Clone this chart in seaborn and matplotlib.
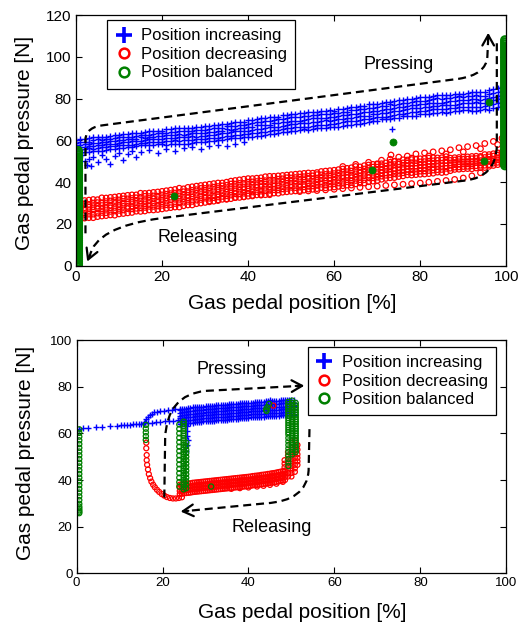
import matplotlib
matplotlib.use("Agg")
import matplotlib.pyplot as plt
import seaborn as sns
from matplotlib.path import Path
from matplotlib.patches import PathPatch
from matplotlib.lines import Line2D

# ================= data: top panel =================
XE = [0,2,4,6,8,10,12,14,16,18,20,22,24,26,28,30,32,34,36,38,40,42,44,46,48,50,
      52,54,56,58,60,62,64,66,68,70,72,74,76,78,80,82,84,86,88,90,92,94,96,98,100]
XO = [1,3,5,7,9,11,13,15,17,19,21,23,25,27,29,31,33,35,37,39,41,43,45,47,49,
      51,53,55,57,59,61,63,65,67,69,71,73,75,77,79,81,83,85,87,89,91,93,95,97,99]

# position increasing (blue), traces on the even grid
TOP_INC_E1 = [60.2,60.7,61.5,61.7,62.2,62.4,63.1,63.5,64.2,64.3,64.7,65.5,65.8,65.8,66.4,66.7,67.2,68.0,68.2,68.7,69.6,
              70.2,70.5,71.4,72.0,72.6,73.3,73.4,73.8,74.2,74.3,75.2,75.8,76.4,77.3,77.6,78.2,78.8,79.1,80.0,80.6,
              81.0,81.7,81.8,82.2,82.3,83.2,83.0,84.0,85.0,86.0]
TOP_INC_E2 = [58.9,59.4,60.2,60.4,60.9,61.4,61.8,61.9,62.6,63.0,63.4,64.0,64.6,64.6,64.9,65.2,65.7,65.9,66.7,67.2,68.0,
              68.6,69.5,69.8,70.4,71.0,71.4,71.5,72.2,72.6,73.0,73.6,74.5,74.8,75.4,76.0,76.6,76.9,77.8,78.4,79.0,
              79.4,80.1,80.2,80.6,81.0,81.4,81.3,82.2,83.2,84.2]
TOP_INC_E3 = [57.6,58.1,58.6,59.4,59.6,60.1,60.5,60.6,61.3,61.7,62.1,62.5,63.1,63.1,63.4,63.7,63.9,64.7,65.2,65.7,66.3,
              67.2,67.5,68.1,68.7,69.3,69.4,70.1,70.5,70.9,71.3,72.2,72.5,73.1,73.7,74.0,74.9,75.5,76.1,77.0,77.3,
              77.7,78.1,78.2,78.9,79.3,79.6,79.5,80.4,81.4,82.4]
TOP_INC_E4 = [56.4,56.9,57.4,57.9,58.1,58.9,59.3,59.7,60.1,60.8,60.9,61.1,61.4,61.7,61.7,62.3,62.8,63.3,63.8,64.6,64.7,
              65.3,65.9,66.5,66.8,67.7,68.1,68.5,68.9,69.6,69.7,70.3,70.9,71.5,71.8,72.7,73.3,73.9,74.5,75.4,75.7,
              76.1,76.5,76.9,77.0,77.7,77.8,78.0,78.3,79.6,80.6]
TOP_INC_E5 = [55.1,55.9,56.1,56.6,57.1,57.6,57.7,58.4,58.8,59.2,59.3,59.6,59.9,60.2,60.8,60.8,61.3,61.8,62.0,62.8,63.0,
              63.6,64.2,65.1,65.4,66.0,66.4,66.5,67.2,67.6,68.0,68.6,69.5,69.8,70.4,71.0,71.3,72.2,72.8,73.4,74.3,
              74.4,74.8,75.2,75.3,76.0,76.0,76.2,77.1,77.8,78.8]
TOP_INC_E6 = [53.8,54.3,54.8,55.0,55.8,56.3,56.7,57.1,57.8,57.9,58.3,58.1,58.4,58.4,59.0,59.3,59.8,60.3,61.1,61.3,61.4,
              62.0,62.6,62.9,63.8,64.4,64.8,65.2,65.9,66.0,66.4,67.0,67.6,67.9,68.8,69.4,70.0,70.6,71.5,71.8,72.4,
              72.8,73.2,73.3,74.0,74.4,74.2,74.4,74.7,76.0,77.0]
# position increasing (blue), traces on the odd grid
TOP_INC_O1 = [60.5,61.0,61.5,61.8,62.5,62.9,63.3,63.7,64.4,64.5,65.4,65.7,66.0,66.0,66.6,67.0,67.5,68.0,68.8,69.0,
              69.9,70.5,71.1,71.4,72.3,72.8,73.2,73.6,74.3,74.4,74.9,75.5,76.1,76.4,77.3,77.9,78.5,79.1,80.0,80.3,
              80.8,81.2,81.6,81.7,82.4,82.8,83.3,83.2,84.5,85.5]
TOP_INC_O2 = [59.2,59.4,60.5,60.7,61.2,61.6,61.7,62.4,62.8,63.5,63.7,64.2,64.5,64.5,65.1,65.5,66.0,66.8,67.0,67.5,
              68.3,68.9,69.2,70.1,70.7,71.2,71.6,72.3,72.4,72.8,73.3,73.6,74.5,75.1,75.7,76.3,77.2,77.5,78.1,78.7,
              78.9,79.6,80.0,80.4,81.1,81.1,81.5,81.4,82.7,83.7]
TOP_INC_O3 = [57.9,58.4,58.6,59.4,59.9,60.3,60.7,61.4,61.5,61.9,62.4,62.7,62.7,63.3,63.6,64.0,64.5,65.3,65.5,66.0,
              66.6,67.2,67.5,68.4,69.0,69.5,69.9,70.6,70.7,71.1,71.6,72.2,72.5,73.4,74.0,74.6,75.2,76.1,76.4,77.0,
              77.5,77.9,78.0,78.7,79.1,79.5,80.0,79.9,80.9,81.9]
TOP_INC_O4 = [56.7,57.2,57.7,58.2,58.4,59.1,59.5,59.9,60.6,60.7,61.0,61.3,61.6,61.9,61.9,62.6,63.1,63.6,64.4,64.6,
              65.0,65.6,66.2,66.5,67.4,67.9,68.3,68.7,69.4,69.5,70.0,70.6,71.2,71.5,72.4,73.0,73.6,74.2,75.1,75.4,
              75.9,76.3,76.7,76.8,77.5,77.8,78.2,78.1,79.1,80.1]
TOP_INC_O5 = [55.4,56.2,56.4,56.9,57.4,57.8,57.9,58.6,59.0,59.4,59.5,60.1,60.1,60.4,60.7,61.1,61.3,62.1,62.6,63.1,
              63.3,64.2,64.5,65.1,65.7,66.2,66.3,67.0,67.4,67.8,68.3,69.2,69.5,70.1,70.7,71.3,71.6,72.5,73.1,73.7,
              74.2,74.9,75.0,75.4,75.8,75.9,75.8,76.3,77.3,78.3]
TOP_INC_O6 = [54.1,54.6,55.1,55.3,56.1,56.5,56.9,57.6,57.7,58.1,58.0,58.3,58.3,58.9,59.2,59.6,60.4,60.6,61.1,61.6,
              61.7,62.0,62.9,63.5,64.1,64.6,65.3,65.4,65.8,66.2,66.4,67.3,67.9,68.5,69.1,70.0,70.3,70.9,71.5,71.8,
              72.6,73.0,73.7,73.8,74.2,74.5,74.3,74.9,75.5,76.5]
TOP_INC_STRAY_X = [1.5,2,2.5,3,3.5,4,5,6,7,8,9,10,11,12,13,14,15,17,19,21,23,25,27,29,31,33,35,37,39,73.5]
TOP_INC_STRAY_Y = [53,50,48,51,47.5,52,49.5,53,51,48.5,52.5,54,50.5,53.5,55,52,54.5,55.5,54,56,55,56.5,57,56,57.5,58,57.5,58.5,59,65.3]

# position decreasing (red), even grid
TOP_DEC_E1 = [30.7,31.2,31.7,32.5,32.7,33.2,33.7,33.9,34.6,35.1,35.6,36.2,37.1,37.5,38.1,38.7,39.3,39.6,40.5,41.1,41.7,
              41.9,42.6,42.8,43.2,43.6,44.0,44.4,44.6,45.3,45.7,46.3,46.9,47.3,48.2,48.8,49.2,49.9,50.7,50.8,51.2,
              51.5,51.6,52.2,51.7,52.0,52.3,52.3,53.2,54.0,54.8]
TOP_DEC_E2 = [29.0,29.5,30.0,30.2,31.0,31.5,32.0,32.5,33.2,33.4,33.9,34.5,35.1,35.5,36.4,37.0,37.6,38.2,39.1,39.4,40.0,
              40.3,40.7,40.9,41.6,42.0,42.4,42.8,43.6,43.7,44.1,44.7,45.3,45.7,46.6,47.2,47.7,48.4,49.2,49.3,49.7,
              50.0,50.4,50.4,50.6,50.9,51.2,51.8,52.1,52.9,53.7]
TOP_DEC_E3 = [27.3,27.8,28.3,28.8,29.0,29.8,30.3,30.8,31.2,32.0,32.2,32.8,33.4,33.8,34.7,35.3,35.9,36.5,37.4,37.7,38.3,
              38.7,39.1,39.3,40.0,40.4,40.8,41.5,41.7,42.1,42.5,43.1,43.4,44.4,45.0,45.6,46.2,46.6,47.4,47.8,48.2,
              48.8,48.9,49.2,49.4,49.7,49.8,50.3,50.9,51.7,52.5]
TOP_DEC_E4 = [25.7,26.5,26.7,27.2,27.7,28.2,28.4,29.2,29.6,30.1,30.6,31.5,31.8,32.5,33.1,33.7,34.0,34.9,35.5,36.1,36.7,
              37.4,37.5,38.0,38.4,38.8,38.9,39.6,40.1,40.5,40.9,41.8,42.1,42.8,43.4,44.0,44.5,45.5,46.0,46.4,46.8,
              47.4,47.5,47.8,48.4,48.7,48.7,49.3,49.9,50.7,51.5]
TOP_DEC_E5 = [24.0,24.5,24.7,25.5,26.0,26.5,27.3,27.5,27.9,28.4,28.9,29.2,30.1,30.8,31.4,32.3,32.6,33.2,33.8,34.4,34.7,
              35.5,35.9,36.4,36.8,37.5,37.6,38.0,38.5,38.6,39.3,39.9,40.5,41.2,42.1,42.4,43.3,44.0,44.5,44.6,45.3,
              45.6,46.0,46.6,47.2,47.5,47.8,48.1,48.4,49.5,50.3]
TOP_DEC_E6 = [22.3,22.8,23.0,23.8,24.3,24.8,25.3,26.1,26.2,26.7,27.2,27.8,28.1,29.1,29.7,30.3,30.9,31.8,32.1,32.7,33.3,
              33.9,34.0,34.8,35.2,35.6,36.0,36.7,36.9,37.3,37.7,38.3,38.6,39.6,40.2,40.8,41.8,42.2,43.0,43.4,43.8,
              44.1,44.8,44.8,46.1,46.4,46.4,47.0,47.6,48.4,49.2]
# position decreasing (red), odd grid
TOP_DEC_O1 = [30.9,31.4,31.6,32.4,32.9,33.4,33.9,34.7,34.8,35.3,35.9,36.5,36.8,37.8,38.4,39.0,39.6,40.0,40.8,41.4,
              41.7,42.1,42.8,43.0,43.4,43.8,44.2,44.3,45.1,45.5,46.0,46.6,47.5,47.9,48.5,48.8,49.5,49.8,50.6,51.0,
              51.3,51.7,51.7,51.5,51.8,52.1,52.4,53.2,53.6,54.4]
TOP_DEC_O2 = [29.2,29.4,30.2,30.7,31.2,32.0,32.2,32.7,33.1,33.3,34.2,34.8,35.4,36.1,37.0,37.3,37.9,38.5,39.1,39.4,
              40.1,40.5,40.9,41.4,42.1,42.2,42.6,43.0,43.5,43.6,44.4,45.0,45.6,46.3,47.2,47.3,48.0,48.6,49.1,49.2,
              49.8,50.2,50.5,50.4,50.9,51.0,51.3,51.8,52.5,53.3]
TOP_DEC_O3 = [27.5,28.0,28.5,29.0,29.8,30.0,30.5,31.0,31.4,31.6,32.5,33.1,33.7,34.4,35.3,35.6,36.2,36.8,37.4,37.7,
              38.5,38.9,39.3,39.8,40.5,40.6,41.0,41.4,41.9,42.0,42.8,43.4,44.0,44.7,45.6,45.8,46.5,47.1,47.6,47.7,
              48.3,48.7,49.0,49.2,49.8,49.8,50.1,50.6,51.0,52.1]
TOP_DEC_O4 = [25.9,26.4,27.2,27.4,27.9,28.4,28.6,29.4,29.8,30.3,30.9,31.8,32.1,32.8,33.4,34.0,34.3,35.2,35.8,36.4,
              36.9,37.6,37.7,38.2,38.6,39.0,39.1,39.8,40.3,40.7,41.2,42.1,42.4,43.1,43.7,44.4,44.8,45.7,46.2,46.6,
              46.9,47.0,47.6,48.2,48.5,48.8,49.4,49.6,50.3,51.1]
TOP_DEC_O5 = [24.2,24.7,25.2,25.4,26.2,26.7,27.2,27.7,28.4,28.6,29.2,29.8,30.4,30.8,31.7,32.3,32.9,33.5,34.4,34.7,
              35.3,35.7,36.1,36.3,37.0,37.4,37.8,38.2,39.0,39.1,39.6,40.2,40.8,41.2,42.1,42.9,43.6,44.2,45.0,45.1,
              45.4,45.8,46.1,46.7,47.3,47.6,47.9,48.1,49.1,49.9]
TOP_DEC_O6 = [22.5,23.0,23.5,24.0,24.2,25.0,25.5,26.0,26.7,26.9,27.5,28.1,28.7,29.1,30.0,30.6,31.2,31.8,32.7,33.0,
              33.7,34.1,34.5,34.7,35.4,35.8,36.2,36.6,37.4,37.5,38.0,38.6,39.2,39.6,40.5,41.4,42.1,42.7,43.5,43.6,
              43.9,44.3,44.6,45.5,46.2,46.5,46.8,47.0,48.0,48.8]
TOP_DEC_LOW_X = [31,33,35,37,39,41,43,45,52,54,56,58,60,62,64,66,68,70,72,74,76,78,80,82,84,86,88,90,92,94]
TOP_DEC_LOW_Y = [31.0,31.5,32.0,32.6,33.0,33.4,33.8,34.0,35.5,35.8,36.0,36.3,36.6,36.9,37.2,37.5,37.8,38.1,38.4,38.7,
                 39.0,39.3,39.6,40.0,40.4,40.8,41.3,42.0,43.0,44.5]
TOP_DEC_HIGH_X = [62,65,68,71,73,75,77,79,81,83,85,87,89,91,93,95,97,99,70,74,78,82,86,90,94,98,73.2]
TOP_DEC_HIGH_Y = [47.5,48.5,49.5,50.5,51.0,52.0,52.5,53.5,54.0,54.5,55.0,55.5,56.5,57.0,57.5,58.5,59.5,61.0,
                  48.5,50.0,51.5,52.5,53.5,54.5,56.0,58.0,53.0]

# position balanced (green)
TOP_BAL_LEFT_X = 0.5
TOP_BAL_LEFT_Y = [0,1,2,3,4,5,6,7,8,9,10,11,12,13,14,15,16,17,18,19,20,21,22,23,24,25,26,27,
                  28,29,30,31,32,33,34,35,36,37,38,39,40,41,42,43,44,45,46,47,48,49,50,51,52,53,54,55]
TOP_BAL_RIGHT_X = 99.7
TOP_BAL_RIGHT_Y = [48,49,50,51,52,53,54,55,56,57,58,59,60,61,62,63,64,65,66,67,68,69,70,71,72,73,74,75,76,77,
                   78,79,80,81,82,83,84,85,86,87,88,89,90,91,92,93,94,95,96,97,98,99,100,101,102,103,104,105,106,107,108]
TOP_BAL_DOT_X = [22.8, 68.7, 73.6, 94.8, 96.0]
TOP_BAL_DOT_Y = [33.3, 45.8, 59.0, 50.2, 78.3]

# ================= data: bottom panel =================
XBI = [24,25,26,27,28,29,30,31,32,33,34,35,36,37,38,39,40,41,42,43,44,45,46,47,48,49,50]
XBH = [24.5,25.5,26.5,27.5,28.5,29.5,30.5,31.5,32.5,33.5,34.5,35.5,36.5,37.5,38.5,39.5,40.5,41.5,42.5,43.5,
       44.5,45.5,46.5,47.5,48.5,49.5,50.5]

BOT_INC_LINE_X = [0.6,1.4,2.7,4.4,6.0,7.8,9.5,10.3,11.0,11.8,12.4,13.1,13.9,14.4,14.9,15.7,16.5,17.5,18.5,19.5,20.5,21.5,22.5,23.5,24.5]
BOT_INC_LINE_Y = [62.0,62.4,62.5,62.7,62.9,63.1,63.3,63.4,63.5,63.6,63.7,63.8,63.9,64.0,64.1,64.3,64.5,64.6,64.8,65.0,65.1,65.3,65.5,65.6,65.8]
BOT_INC_ARC_X = [15.8,16.2,16.6,17.0,17.5,18.0,18.7,19.5,20.3,21.2,22.1,23.0,24.0,25.6,25.8,25.6,25.9,25.7,25.5]
BOT_INC_ARC_Y = [65.0,66.0,67.0,67.8,68.5,69.0,69.3,69.5,69.7,69.9,70.1,70.3,70.5,63.0,61.0,59.0,57.0,55.0,52.5]
BOT_INC_I1 = [70.2,70.5,70.8,71.3,71.2,71.4,71.6,71.8,71.9,72.3,72.2,72.3,72.5,72.6,72.8,73.2,73.1,73.2,73.4,73.5,73.7,74.1,73.9,74.0,74.1,74.2,74.2]
BOT_INC_I2 = [68.9,69.2,69.5,69.7,69.9,70.1,70.3,70.4,70.6,70.7,70.9,71.0,71.2,71.3,71.5,71.6,71.8,71.9,72.1,72.2,72.4,72.5,72.6,72.7,72.8,72.8,72.9]
BOT_INC_I3 = [67.6,67.9,68.2,68.4,68.6,68.8,69.0,69.2,69.3,69.5,69.6,69.8,69.9,70.1,70.2,70.4,70.5,70.7,70.8,71.0,71.1,71.2,71.3,71.4,71.5,71.6,71.6]
BOT_INC_I4 = [66.4,66.7,67.0,67.2,67.4,67.6,67.8,67.9,68.1,68.2,68.4,68.5,68.7,68.8,69.0,69.1,69.3,69.4,69.6,69.7,69.9,70.0,70.1,70.2,70.3,70.3,70.4]
BOT_INC_I5 = [65.1,65.4,65.7,65.9,66.1,66.3,66.5,66.6,66.8,66.9,67.1,67.2,67.4,67.5,67.7,67.8,68.0,68.1,68.3,68.4,68.6,68.7,68.8,68.9,69.0,69.0,69.1]
BOT_INC_I6 = [63.8,64.1,64.4,64.6,64.8,65.0,65.2,65.3,65.5,65.6,65.8,65.9,66.1,66.2,66.4,66.5,66.7,66.8,67.0,67.1,67.3,67.4,67.5,67.6,67.7,67.7,67.8]
BOT_INC_H1 = [70.4,70.6,70.9,71.1,71.3,71.5,71.7,71.8,72.0,72.1,72.3,72.4,72.6,72.7,72.9,73.0,73.2,73.3,73.5,73.6,73.8,73.9,74.0,74.1,74.1,74.2,74.2]
BOT_INC_H2 = [69.0,69.3,69.6,69.8,70.0,70.2,70.4,70.5,70.7,70.8,71.0,71.1,71.3,71.4,71.6,71.7,71.9,72.0,72.2,72.3,72.5,72.6,72.7,72.8,72.9,72.9,72.9]
BOT_INC_H3 = [67.8,68.0,68.3,68.5,68.7,68.9,69.1,69.2,69.4,69.5,69.7,69.8,70.0,70.1,70.3,70.4,70.6,70.7,70.9,71.0,71.1,71.2,71.3,71.4,71.5,71.6,71.6]
BOT_INC_H4 = [66.6,66.9,67.1,67.3,67.5,67.7,67.9,68.0,68.2,68.3,68.5,68.6,68.8,68.9,69.1,69.2,69.4,69.5,69.7,69.8,70.0,70.1,70.2,70.3,70.3,70.4,70.4]
BOT_INC_H5 = [65.2,65.5,65.8,66.0,66.2,66.4,66.6,66.7,66.9,67.0,67.2,67.3,67.5,67.6,67.8,67.9,68.1,68.2,68.4,68.5,68.6,68.7,68.8,68.9,69.0,69.1,69.1]
BOT_INC_H6 = [64.0,64.3,64.5,64.7,64.9,65.1,65.3,65.4,65.6,65.7,65.9,66.0,66.2,66.3,66.5,66.6,66.8,66.9,67.1,67.2,67.4,67.5,67.6,67.7,67.7,67.8,67.8]

BOT_DEC_I1 = [38.0,38.3,38.5,38.8,39.0,39.2,39.4,39.6,39.8,40.0,40.2,40.4,40.6,40.8,41.0,41.2,41.4,41.7,41.9,42.2,42.4,42.7,43.0,43.4,43.8]
BOT_DEC_I2 = [36.7,37.0,37.2,37.5,37.7,37.9,38.1,38.3,38.5,38.7,38.9,39.1,39.3,39.5,39.7,39.9,40.1,40.4,40.6,40.9,41.1,41.4,41.7,42.1,42.5]
BOT_DEC_I3 = [35.3,35.6,35.8,36.1,36.3,36.5,36.7,36.9,37.1,37.3,37.5,37.7,37.9,38.1,38.3,38.5,38.7,39.0,39.2,39.5,39.7,40.0,40.3,40.7,41.1]
BOT_DEC_I4 = [34.0,34.3,34.5,34.8,35.0,35.2,35.4,35.6,35.8,36.0,36.2,36.4,36.6,36.8,37.0,37.2,37.4,37.7,37.9,38.2,38.4,38.7,39.0,39.4,39.8]
BOT_DEC_H1 = [38.1,38.4,38.6,38.9,39.1,39.3,39.5,39.7,39.9,40.1,40.3,40.5,40.7,40.9,41.1,41.3,41.5,41.8,42.0,42.3,42.6,42.9,43.2,43.6,44.0]
BOT_DEC_H2 = [36.8,37.1,37.3,37.6,37.8,38.0,38.2,38.4,38.6,38.8,39.0,39.2,39.4,39.6,39.8,40.0,40.2,40.5,40.7,41.0,41.3,41.6,41.9,42.3,42.7]
BOT_DEC_H3 = [35.4,35.7,35.9,36.2,36.4,36.6,36.8,37.0,37.2,37.4,37.6,37.8,38.0,38.2,38.4,38.6,38.8,39.1,39.3,39.6,39.9,40.2,40.5,40.9,41.3]
BOT_DEC_H4 = [34.1,34.4,34.6,34.9,35.1,35.3,35.5,35.7,35.9,36.1,36.3,36.5,36.7,36.9,37.1,37.3,37.5,37.8,38.0,38.3,38.6,38.9,39.2,39.6,40.0]
BOT_DEC_LOOP_X = [16.2,16.2,16.3,16.3,16.4,16.6,16.8,17.1,17.4,17.8,18.2,18.7,19.2,19.8,20.4,21.0,21.7,22.4,23.1,23.8,24.5,
                  36,38,40,42,43.5,45,46.5,48,45.8]
BOT_DEC_LOOP_Y = [56.0,53.6,50.7,48.5,46.5,44.5,42.5,40.8,39.3,38.0,36.9,35.8,34.9,34.0,33.3,32.7,32.3,32.1,32.1,32.3,32.6,
                  36.2,36.5,36.8,37.2,37.5,37.9,38.4,39.2,71.9]
BOT_DEC_COL_X = [48.4,48.4,48.4,48.4,48.4, 49.2,49.2,49.2,49.2,49.2,49.2,49.2,49.2,
                 50.0,50.0,50.0,50.0,50.0,50.0,50.0,50.0,50.0,50.0,
                 50.8,50.8,50.8,50.8,50.8,50.8,50.8,50.8,50.8, 51.4,51.4,51.4,51.4,51.4,51.4]
BOT_DEC_COL_Y = [42.5,44.0,45.5,47.0,48.5, 41.5,43.0,44.5,46.0,47.5,49.0,50.5,52.0,
                 41.5,43.0,44.5,46.0,47.5,49.0,50.5,52.0,54.0,56.0,
                 43.5,45.0,46.5,48.0,49.5,51.0,52.5,54.5,57.0, 46.5,48.0,49.5,51.0,53.0,55.0]

BOT_BAL_COLUMNS = {
    0.6: [61.7,60.2,58.6,57.0,55.4,53.8,52.2,50.6,49.0,47.4,45.8,44.2,42.6,41.0,39.4,37.8,36.2,34.6,33.0,31.4,
          29.8,28.6,27.8,27.0,26.4,25.8],
    16.1: [63.6,62.0,60.4,58.8,57.2],
    23.9: [63.8,61.9,60.0,58.1,56.2,54.3,52.4,50.5,48.6,46.7,44.8,42.9,41.0,39.1,37.2],
    24.9: [65.0,64.0,63.0,62.0,61.0,60.0,59.0,58.0,57.0,56.0,55.0,54.0,53.0,52.0,51.0,50.0,49.0,48.0,47.0,46.0,
           45.0,44.0,43.0,42.0,41.0,40.0,39.0,38.0,37.0,36.0],
    25.5: [56.0,54.5,53.0,51.5,50.0,48.5,47.0,45.5,44.0,42.5,41.0,39.5,38.0,36.5],
    49.3: [73.5,72.5,71.5,70.5,69.5,68.5,67.5,66.5,65.5,64.5,63.5,62.5,61.5,60.5,59.5,58.0,56.5,55.0,53.5,52.0,
           50.5,49.0,47.5,46.0],
    50.2: [74.0,73.0,72.0,71.0,70.0,69.0,68.0,67.0,66.0,65.0,64.0,63.0,62.0,61.0,60.0,59.0,58.0,57.0,56.0,55.0,
           54.0,53.0,52.0,51.0],
    51.0: [73.0,72.0,71.0,70.0,69.0,68.0,67.0,66.0,65.0,64.0,63.0,62.0,61.0,60.0,59.0,58.0,57.0,56.0,55.0,54.0,
           53.0,52.0],
}
BOT_BAL_DOT_X = [31.3, 44.1, 44.4, 44.8, 44.2]
BOT_BAL_DOT_Y = [37.2, 70.2, 71.2, 72.6, 69.6]

LABELS = ["Position increasing", "Position decreasing", "Position balanced"]
BLUE, RED, GREEN = (0, 0, 1), (1, 0, 0), (0, 0.5, 0)

# ================= style =================
sns.set_style("white")
plt.rcParams['font.family'] = ['Liberation Sans', 'DejaVu Sans']
for k in ['axes.edgecolor', 'text.color', 'axes.labelcolor', 'xtick.color', 'ytick.color']:
    plt.rcParams[k] = 'black'


def pts(ax, x, y, kind, s, lw, clip=True):
    n = min(len(x), len(y))
    x, y = list(x[:n]), list(y[:n])
    if kind == 'inc':
        sns.scatterplot(x=x, y=y, ax=ax, marker='+', color=BLUE, s=s, linewidth=lw, legend=False, clip_on=clip)
    elif kind in ('dec', 'bal'):
        ec = RED if kind == 'dec' else GREEN
        sns.scatterplot(x=x, y=y, ax=ax, marker='o', facecolor='none', edgecolor=ec, s=s, linewidth=lw,
                        legend=False, clip_on=clip)
    else:
        sns.scatterplot(x=x, y=y, ax=ax, marker='o', color=GREEN, edgecolor=GREEN, s=s, linewidth=lw,
                        legend=False, clip_on=clip)


def dashed(ax, verts, codes, tip, tail):
    ax.add_patch(PathPatch(Path(verts, codes), fill=False, lw=1.6, ls=(0, (3.6, 2.2)),
                           edgecolor='black', capstyle='butt', zorder=5))
    ax.annotate('', xy=tip, xytext=tail,
                arrowprops=dict(arrowstyle='->,head_length=0.75,head_width=0.42', lw=1.6,
                                color='black', shrinkA=0, shrinkB=0), zorder=6)


def style_axes(ax, ymax, ticksize):
    ax.set_xlim(0, 100)
    ax.set_ylim(0, ymax)
    ax.set_xticks([0, 20, 40, 60, 80, 100])
    ax.set_yticks(list(range(0, ymax + 1, 20)))
    ax.tick_params(which='both', direction='in', top=True, right=True, bottom=True, left=True,
                   length=4, width=0.8, labelsize=ticksize, pad=3, colors='black')
    for sp in ax.spines.values():
        sp.set_visible(True)
        sp.set_color('black')
        sp.set_linewidth(0.9)


def legend(ax, anchor):
    handles = [
        Line2D([0], [0], marker='+', color=BLUE, ls='none', markersize=11, markeredgewidth=2.6),
        Line2D([0], [0], marker='o', mfc='none', mec=RED, ls='none', markersize=7, markeredgewidth=1.8),
        Line2D([0], [0], marker='o', mfc='none', mec=GREEN, ls='none', markersize=7, markeredgewidth=1.8),
    ]
    lg = ax.legend(handles, LABELS, loc='upper left', bbox_to_anchor=anchor, borderaxespad=0,
                   fontsize=12, handlelength=1.0, handletextpad=0.55, borderpad=0.5, labelspacing=0.21,
                   frameon=True, fancybox=False, framealpha=1, edgecolor='black')
    lg.get_frame().set_linewidth(0.9)
    lg.set_zorder(10)


fig = plt.figure(figsize=(5.27, 6.27), dpi=100)
fig.patch.set_facecolor('white')
ax1 = fig.add_axes([0.1442, 0.5762, 0.8165, 0.3998])
ax2 = fig.add_axes([0.1455, 0.0856, 0.8150, 0.3721])

# ---- top panel ----
for tr in [TOP_INC_E1, TOP_INC_E2, TOP_INC_E3, TOP_INC_E4, TOP_INC_E5, TOP_INC_E6]:
    pts(ax1, XE, tr, 'inc', 22, 1.0)
for tr in [TOP_INC_O1, TOP_INC_O2, TOP_INC_O3, TOP_INC_O4, TOP_INC_O5, TOP_INC_O6]:
    pts(ax1, XO, tr, 'inc', 22, 1.0)
pts(ax1, TOP_INC_STRAY_X, TOP_INC_STRAY_Y, 'inc', 22, 1.0)
for tr in [TOP_DEC_E1, TOP_DEC_E2, TOP_DEC_E3, TOP_DEC_E4, TOP_DEC_E5, TOP_DEC_E6]:
    pts(ax1, XE, tr, 'dec', 16, 0.9)
for tr in [TOP_DEC_O1, TOP_DEC_O2, TOP_DEC_O3, TOP_DEC_O4, TOP_DEC_O5, TOP_DEC_O6]:
    pts(ax1, XO, tr, 'dec', 16, 0.9)
pts(ax1, TOP_DEC_LOW_X, TOP_DEC_LOW_Y, 'dec', 16, 0.9)
pts(ax1, TOP_DEC_HIGH_X, TOP_DEC_HIGH_Y, 'dec', 16, 0.9)
pts(ax1, [TOP_BAL_LEFT_X] * len(TOP_BAL_LEFT_Y), TOP_BAL_LEFT_Y, 'bal', 30, 1.6)
pts(ax1, [TOP_BAL_RIGHT_X] * len(TOP_BAL_RIGHT_Y), TOP_BAL_RIGHT_Y, 'bal', 30, 1.6)
pts(ax1, TOP_BAL_DOT_X, TOP_BAL_DOT_Y, 'dot', 26, 0.5)

M, L, C3 = Path.MOVETO, Path.LINETO, Path.CURVE3
dashed(ax1, [(2.2, 15.5), (2.2, 60.5), (2.4, 66.5), (6.5, 67.3), (89, 89.5), (95.3, 91.5), (95.6, 100), (95.8, 109)],
       [M, L, C3, C3, L, C3, C3, L], tip=(95.8, 111.5), tail=(95.8, 108.5))
dashed(ax1, [(97.8, 106.5), (97.8, 57), (97.5, 42.5), (90.5, 40.8), (19.6, 22.7), (4.5, 18.5), (3.2, 4.5)],
       [M, L, C3, C3, L, C3, C3], tip=(2.6, 2.0), tail=(3.2, 5.0))
ax1.text(75.0, 96.5, "Pressing", ha='center', va='center', fontsize=13)
ax1.text(28.2, 13.6, "Releasing", ha='center', va='center', fontsize=13)

style_axes(ax1, 120, 11)
ax1.set_xlabel("Gas pedal position [%]", fontsize=15, va='center')
ax1.set_ylabel("Gas pedal pressure [N]", fontsize=15, va='center')
ax1.xaxis.set_label_coords(0.503, -0.149)
ax1.yaxis.set_label_coords(-0.119, 0.491)
legend(ax1, (0.072, 0.98))

# ---- bottom panel ----
pts(ax2, BOT_INC_LINE_X, BOT_INC_LINE_Y, 'inc', 18, 1.0)
pts(ax2, BOT_INC_ARC_X, BOT_INC_ARC_Y, 'inc', 18, 1.0)
for tr in [BOT_INC_I1, BOT_INC_I2, BOT_INC_I3, BOT_INC_I4, BOT_INC_I5, BOT_INC_I6]:
    pts(ax2, XBI, tr, 'inc', 18, 1.0)
for tr in [BOT_INC_H1, BOT_INC_H2, BOT_INC_H3, BOT_INC_H4, BOT_INC_H5, BOT_INC_H6]:
    pts(ax2, XBH, tr, 'inc', 18, 1.0)
for tr in [BOT_DEC_I1, BOT_DEC_I2, BOT_DEC_I3, BOT_DEC_I4]:
    pts(ax2, XBI, tr, 'dec', 13, 0.9)
for tr in [BOT_DEC_H1, BOT_DEC_H2, BOT_DEC_H3, BOT_DEC_H4]:
    pts(ax2, XBH, tr, 'dec', 13, 0.9)
pts(ax2, BOT_DEC_LOOP_X, BOT_DEC_LOOP_Y, 'dec', 13, 0.9)
pts(ax2, BOT_DEC_COL_X, BOT_DEC_COL_Y, 'dec', 13, 0.9)
for cx, ys in BOT_BAL_COLUMNS.items():
    pts(ax2, [cx] * len(ys), ys, 'bal', 14, 0.9)
pts(ax2, BOT_BAL_DOT_X, BOT_BAL_DOT_Y, 'bal', 14, 0.9)

dashed(ax2, [(20.4, 32.5), (20.6, 58), (21.0, 76.5), (30, 78.2), (51.5, 80.3)],
       [M, L, C3, C3, L], tip=(53.0, 80.4), tail=(51.0, 80.3))
dashed(ax2, [(54.2, 61.8), (54.0, 44), (53.5, 31), (44, 30), (25.5, 26.7)],
       [M, L, C3, C3, L], tip=(24.2, 26.5), tail=(26.0, 26.8))
ax2.text(36.0, 87.4, "Pressing", ha='center', va='center', fontsize=13)
ax2.text(45.3, 19.8, "Releasing", ha='center', va='center', fontsize=13)

style_axes(ax2, 100, 9.5)
ax2.set_xlabel("Gas pedal position [%]", fontsize=15, va='center')
ax2.set_ylabel("Gas pedal pressure [N]", fontsize=15, va='center')
ax2.xaxis.set_label_coords(0.526, -0.170)
ax2.yaxis.set_label_coords(-0.120, 0.516)
legend(ax2, (0.538, 0.971))

fig.savefig("out.png", dpi=100, facecolor='white')
